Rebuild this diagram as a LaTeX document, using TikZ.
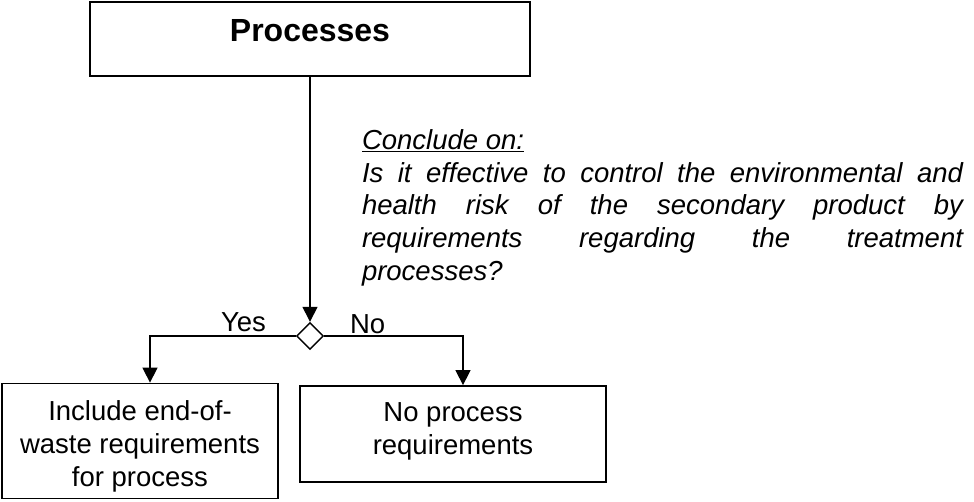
\documentclass[tikz,border=0pt]{standalone}
\usepackage{fontspec}
\setmainfont{Liberation Sans}
\usetikzlibrary{arrows.meta,shapes.geometric}
\begin{document}
\begin{tikzpicture}[x=1pt,y=-1pt,
  txt/.style={font=\fontsize{27.5}{33}\selectfont, inner sep=0pt, outer sep=0pt},
  boxed/.style={draw, line width=1.8pt, inner sep=0pt},
  conn/.style={line width=1.4pt, -{Triangle[length=15pt,width=15pt]}},
  plainline/.style={line width=1.4pt}]
\useasboundingbox (0,0) rectangle (974,501);
% top box
\node[boxed, line width=2.6pt, minimum width=440pt, minimum height=74pt] (proc) at (310,39) {};
\node[txt, font=\fontsize{32}{38}\selectfont\bfseries, anchor=base] (proct) at (310,41.7) {Processes};
% decision diamond
\node[diamond, draw, line width=1.4pt, minimum width=27pt, minimum height=27pt, inner sep=0pt] (dec) at (310,336) {};
% outcome boxes
\node[boxed, minimum width=276pt, minimum height=115pt] (yesbox) at (140,441) {};
\node[boxed, minimum width=306pt, minimum height=96pt] (nobox) at (453,434) {};
\node[txt, align=center, anchor=north] (yest) at (140,400.3) {Include end-of-\\waste requirements\\for process};
\node[txt, align=center, anchor=north] (not) at (453,402.3) {No process\\requirements};
% connectors
\coordinate (yk) at (150,336);
\coordinate (nk) at (463,336);
\draw[conn] (proc.south) -- (dec.north);
\draw[conn] (dec.west) -| (yesbox.north -| yk);
\draw[conn] (dec.east) -| (nobox.north -| nk);
% labels
\node[txt, anchor=base] (yesl) at (243.5,331) {Yes};
\node[txt, anchor=base west] (nol) at (350,333) {No};
% question text
\node[txt, font=\fontsize{27.5}{32.75}\selectfont\itshape, align=left, anchor=north west] (q) at (362,129.5)
  {\underline{Conclude on:}\\
   \makebox[601pt][s]{Is it effective to control the environmental and}\\
   \makebox[601pt][s]{health risk of the secondary product by}\\
   \makebox[601pt][s]{requirements regarding the treatment}\\
   processes?};
\end{tikzpicture}
\end{document}
